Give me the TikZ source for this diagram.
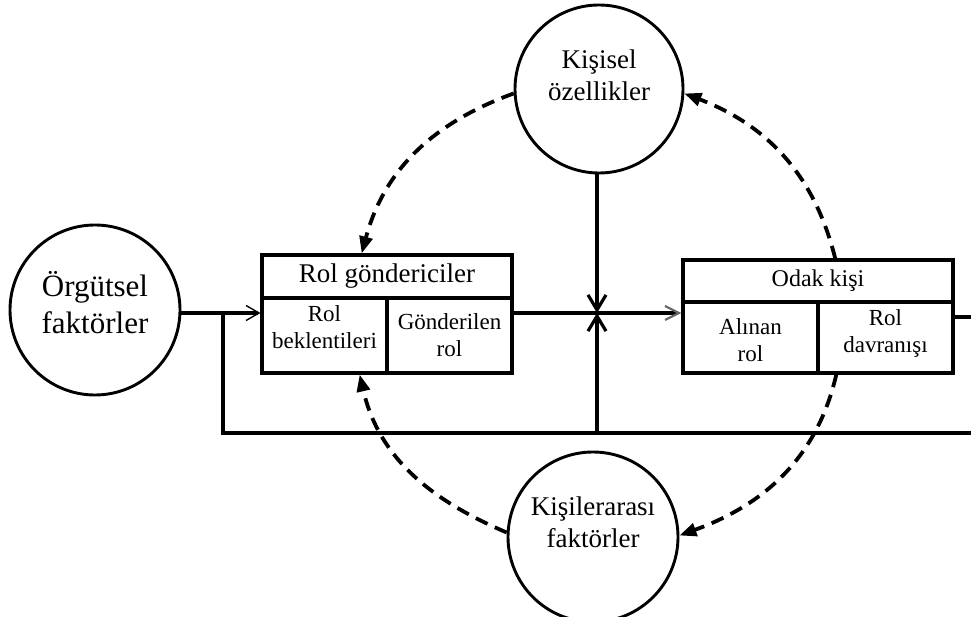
\documentclass[tikz,border=0pt]{standalone}
\usepackage{fontspec}
\setmainfont{Liberation Serif}
\usetikzlibrary{arrows.meta,calc}
\begin{document}
\begin{tikzpicture}[x=1pt,y=1pt,
  solidline/.style={line width=3.1pt},
  circ/.style={draw, circle, line width=2.9pt, inner sep=0pt},
  boxnode/.style={draw, rectangle, line width=3.1pt, inner sep=0pt},
  dashline/.style={line width=3.8pt, dash pattern=on 13pt off 8pt, -{Triangle[length=17pt,width=13pt]}},
  bigtxt/.style={align=center, font=\fontsize{31}{37}\selectfont, inner sep=0pt},
  circtxt/.style={align=center, font=\fontsize{27}{32}\selectfont, inner sep=0pt},
  headtxt/.style={align=center, inner sep=0pt},
  celltxt/.style={align=center, font=\fontsize{23}{27}\selectfont, inner sep=0pt},
  thinbarb/.style={-{Straight Barb[length=13pt,width=15pt,line width=1.4pt]}},
  vbarb/.style={-{Straight Barb[length=15pt,width=18pt,line width=3.2pt]}},
]
\useasboundingbox (0,0) rectangle (971,616);

% circles
\node[circ, minimum size=170pt] (lc) at (95,306) {};
\node[bigtxt] (lct) at (95,313) {Örgütsel\\faktörler};
\node[circ, minimum size=168pt] (ks) at (599,527) {};
\node[circtxt] (kst) at (599,541) {Kişisel\\özellikler};
\node[circ, minimum size=170pt] (ki) at (593,79) {};
\node[circtxt] (kit) at (593,94) {Kişilerarası\\faktörler};

% Rol göndericiler box
\node[boxnode, minimum width=250pt, minimum height=118pt] (rg) at (387,302) {};
\coordinate (rgh1) at (262,318);
\coordinate (rgh2) at (512,318);
\coordinate (rgd1) at (387,318);
\coordinate (rgd2) at (387,243);
\draw[solidline] (rgh1) -- (rgh2);
\draw[solidline] (rgd1) -- (rgd2);
\node[headtxt, font=\fontsize{27}{32}\selectfont] (rgt) at (387,339.5) {Rol göndericiler};
\node[celltxt] (rbt) at (324.5,289) {Rol\\beklentileri};
\node[celltxt] (grt) at (449.5,281) {Gönderilen\\rol};

% Odak kişi box
\node[boxnode, minimum width=270pt, minimum height=113pt] (od) at (818,299.5) {};
\coordinate (odh1) at (683,314);
\coordinate (odh2) at (953,314);
\coordinate (odd1) at (818,314);
\coordinate (odd2) at (818,243);
\draw[solidline] (odh1) -- (odh2);
\draw[solidline] (odd1) -- (odd2);
\node[headtxt, font=\fontsize{24}{28}\selectfont] (odt) at (818,335) {Odak kişi};
\node[celltxt] (art) at (750.5,276) {Alınan\\rol};
\node[celltxt] (rdt) at (885.5,283) {Rol\\davranışı};

% solid connectors
\coordinate (ym) at (0,303);
\coordinate (j1) at (223,303);
\coordinate (xc) at (597,303);
\coordinate (jb) at (597,183);
\coordinate (rb) at (971,183);
\coordinate (rs) at (971,299);

\draw[solidline, thinbarb] (lc.east |- ym) -- (rg.west |- ym);
\draw[solidline] (j1) |- (rb);
\draw[solidline, vbarb] (ks.south -| xc) -- (xc);
\draw[solidline, vbarb] (jb) -- (xc);
\draw[solidline, -{Straight Barb[length=14pt,width=14pt,line width=2.2pt,color=black!60]}] (rg.east |- ym) -- (od.west |- ym);
\draw[solidline] (od.east |- rs) -- (rs);

% dashed arcs
\draw[dashline] (ks.183) to[out=200, in=75] ($(rg.north west)!0.4!(rg.north east)$);
\draw[dashline] ($(od.north west)!0.563!(od.north east)$) to[out=104, in=-21] (ks.-3);
\draw[dashline] ($(od.south west)!0.567!(od.south east)$) to[out=-103, in=20] (ki.1);
\draw[dashline] (ki.177) to[out=157, in=283] ($(rg.south west)!0.392!(rg.south east)$);
\end{tikzpicture}
\end{document}
